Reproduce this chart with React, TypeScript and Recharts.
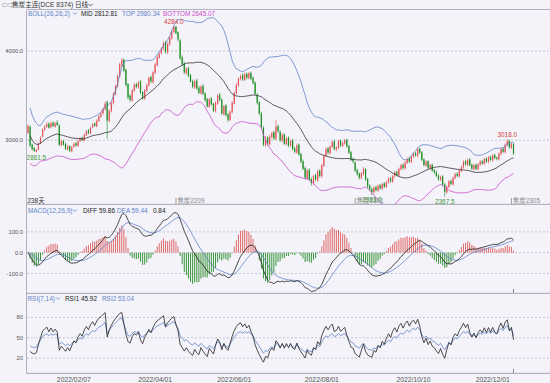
import { ComposedChart, Bar, Line, XAxis, YAxis, CartesianGrid, ReferenceDot, ReferenceLine } from 'recharts'

// daily OHLC of 焦炭主连 (one value per trading day)
const opens = [3080,3150,2950,2910,2870,2895,2965,3040,3115,3150,
3185,3145,3195,3150,3200,3165,2945,2990,2960,2895,
2935,2875,2925,2965,2935,2990,3030,2995,3055,3110,
3075,3145,3190,3155,3215,3265,3300,3345,3430,3215,
3325,3415,3515,3600,3715,3840,3905,3790,3630,3500,
3445,3555,3630,3590,3660,3540,3465,3555,3615,3710,
3650,3755,3840,3925,3975,4025,4100,3985,4075,4140,
4215,4275,4210,4120,3930,3860,3750,3810,3730,3660,
3590,3670,3590,3525,3610,3525,3460,3375,3470,3410,
3325,3410,3510,3455,3290,3390,3290,3225,3315,3410,
3525,3615,3685,3730,3675,3745,3695,3755,3700,3645,
3510,3425,3300,3140,2945,3030,2955,3035,3090,3015,
3160,3095,2995,3065,2955,3030,2935,2995,2905,2860,
2950,2845,2765,2690,2570,2670,2565,2515,2610,2550,
2660,2595,2715,2825,2910,2855,2925,2990,2895,2915,
2995,2935,2965,3005,2935,2865,2790,2750,2665,2625,
2575,2620,2675,2565,2490,2455,2415,2475,2435,2495,
2455,2515,2475,2525,2575,2535,2595,2645,2605,2675,
2725,2685,2745,2795,2755,2815,2855,2825,2905,2865,
2785,2715,2765,2685,2725,2665,2645,2605,2555,2595,
2505,2415,2475,2545,2505,2575,2625,2595,2655,2695,
2765,2725,2785,2725,2675,2725,2675,2725,2765,2735,
2795,2755,2815,2775,2835,2805,2785,2845,2905,2865,
2945,2995,2915,2955]

const highs = [3180,3165,2965,2925,2905,2975,3045,3135,3170,3205,
3200,3210,3215,3205,3225,3180,3010,3005,2975,2950,
2945,2935,2975,2980,3005,3035,3040,3075,3115,3125,
3155,3195,3200,3235,3285,3320,3365,3435,3445,3345,
3435,3540,3625,3740,3870,3924,3915,3800,3640,3515,
3575,3640,3645,3665,3675,3550,3575,3635,3715,3725,
3775,3865,3950,3990,4045,4110,4115,4095,4165,4235,
4284,4280,4220,4135,3950,3880,3820,3825,3745,3680,
3680,3690,3610,3615,3630,3540,3475,3475,3485,3420,
3440,3520,3530,3470,3395,3405,3305,3335,3435,3545,
3640,3705,3740,3750,3760,3760,3765,3770,3715,3660,
3530,3440,3320,3160,3045,3050,3060,3095,3105,3227,
3175,3115,3080,3080,3040,3045,3010,3015,2925,2960,
2965,2860,2785,2705,2680,2685,2585,2615,2625,2670,
2675,2735,2835,2920,2925,2945,2995,3005,2935,3005,
3010,2985,3015,3015,2950,2880,2805,2765,2680,2640,
2645,2700,2690,2580,2505,2470,2485,2490,2505,2510,
2525,2530,2545,2585,2590,2615,2655,2660,2695,2735,
2740,2765,2805,2810,2835,2865,2870,2924,2915,2880,
2800,2775,2775,2735,2740,2680,2660,2620,2605,2610,
2520,2495,2555,2560,2595,2635,2640,2675,2715,2775,
2780,2795,2800,2740,2735,2740,2745,2775,2780,2805,
2810,2825,2830,2845,2850,2820,2865,2915,2920,2965,
3018,3005,2975,2970]

const lows = [3070,2925,2885,2870,2861.5,2885,2955,3030,3100,3140,
3130,3135,3150,3140,3160,2935,2930,2940,2890,2885,
2867,2865,2915,2930,2925,2980,2990,2985,3045,3065,
3065,3135,3150,3145,3205,3250,3290,3335,3015,3200,
3310,3400,3500,3590,3700,3820,3760,3600,3460,3430,
3430,3540,3580,3575,3515,3455,3450,3540,3600,3640,
3635,3740,3825,3910,3960,4010,3970,3965,4060,4125,
4200,4185,4110,3900,3830,3740,3735,3705,3700,3580,
3575,3560,3515,3510,3505,3430,3365,3360,3390,3315,
3310,3395,3435,3285,3275,3265,3205,3215,3300,3400,
3510,3600,3670,3665,3660,3680,3680,3675,3625,3505,
3400,3280,3130,2930,2925,2940,2945,3020,3000,3000,
3085,2980,2975,2945,2940,2920,2920,2885,2850,2845,
2825,2740,2665,2560,2555,2540,2489,2500,2540,2535,
2580,2580,2700,2810,2840,2840,2910,2885,2880,2900,
2925,2920,2950,2915,2845,2765,2740,2645,2600,2560,
2560,2605,2545,2465,2435,2383,2400,2425,2420,2445,
2440,2465,2460,2510,2520,2520,2580,2595,2590,2660,
2670,2670,2730,2745,2740,2800,2815,2810,2845,2765,
2705,2700,2675,2670,2645,2620,2585,2545,2540,2485,
2367.5,2400,2460,2495,2490,2560,2585,2580,2640,2680,
2715,2710,2705,2665,2660,2665,2660,2710,2725,2720,
2745,2740,2765,2760,2785,2775,2770,2830,2855,2850,
2930,2905,2900,2835]

const closes = [3160,2940,2900,2880,2890,2960,3030,3120,3150,3180,
3140,3190,3160,3190,3170,2950,2990,2950,2900,2930,
2880,2920,2960,2940,2990,3020,3000,3060,3100,3080,
3140,3180,3160,3220,3270,3300,3350,3410,3220,3330,
3420,3520,3610,3720,3850,3900,3780,3620,3480,3450,
3560,3620,3600,3650,3530,3470,3560,3620,3700,3660,
3760,3850,3930,3970,4030,4090,3990,4080,4150,4220,
4270,4200,4130,3920,3850,3760,3800,3720,3650,3600,
3660,3580,3530,3600,3520,3450,3380,3460,3400,3330,
3420,3500,3450,3300,3380,3280,3230,3320,3420,3530,
3620,3690,3720,3680,3740,3700,3750,3690,3640,3520,
3420,3300,3150,2950,3020,2960,3040,3080,3020,3150,
3100,3000,3060,2960,3020,2940,2990,2900,2870,2940,
2840,2760,2680,2580,2660,2560,2520,2600,2560,2650,
2600,2720,2820,2900,2860,2930,2980,2900,2920,2990,
2940,2970,3000,2930,2860,2780,2760,2660,2620,2580,
2630,2680,2560,2480,2450,2420,2470,2440,2490,2460,
2510,2480,2530,2570,2540,2600,2640,2610,2680,2720,
2690,2750,2790,2760,2820,2850,2830,2900,2860,2780,
2720,2760,2690,2720,2660,2640,2600,2560,2590,2500,
2420,2480,2540,2510,2580,2620,2600,2660,2700,2760,
2730,2780,2720,2680,2720,2680,2730,2760,2740,2790,
2760,2810,2780,2830,2800,2790,2850,2900,2870,2950,
2990,2920,2960,2850]

// exchange holidays on weekdays (trading calendar)
const holidays = ['2022/01/03', '2022/01/31', '2022/02/01', '2022/02/02', '2022/02/03', '2022/02/04',
  '2022/04/04', '2022/04/05', '2022/05/02', '2022/05/03', '2022/05/04', '2022/06/03', '2022/09/12',
  '2022/10/03', '2022/10/04', '2022/10/05', '2022/10/06', '2022/10/07', '2023/01/02']
const dateTicks = ['2022/02/07', '2022/04/01', '2022/06/01', '2022/08/01', '2022/10/10', '2022/12/01']
const priceTicks = [3000, 4000]
const macdTicks = [-100, 0, 100]
const rsiTicks = [20, 50, 80]

// labelled extremes: [bar, price, text]
const highMarks: [number, number, string][] = [[70, 4284, '4284.0'], [230, 3018, '3018.0']]
const lowMarks: [number, number, string][] = [[4, 2861.5, '2861.5'], [165, 2383, '2383.0'], [200, 2367.5, '2367.5']]
// contract switch markers
const rolls: [number, string][] = [[71, '焦炭2209'], [157, '焦炭2301'], [232, '焦炭2305']]

const SLOTS = 251
const UP = '#e25358'
const DOWN = '#1a8c1e'
const BLUE = '#6184c6'
const PINK = '#cc4fcc'
const INK = '#222'
const FONT = "'Liberation Sans', 'Noto Sans CJK SC', sans-serif"

function makeDates() {
  const out: string[] = []
  const d = new Date(Date.UTC(2021, 11, 29))
  while (out.length < SLOTS) {
    const day = d.getUTCDay()
    const s = d.getUTCFullYear() + '/' + String(d.getUTCMonth() + 1).padStart(2, '0') + '/' + String(d.getUTCDate()).padStart(2, '0')
    if (day !== 0 && day !== 6 && !holidays.includes(s)) out.push(s)
    d.setUTCDate(d.getUTCDate() + 1)
  }
  return out
}
const dates = makeDates()
const n = closes.length

// BOLL(26,2)
const boll = closes.map((_, i) => {
  if (i === 0) return null
  const win = closes.slice(Math.max(0, i - 25), i + 1)
  const m = win.reduce((a, b) => a + b, 0) / win.length
  const sd = Math.sqrt(win.reduce((a, b) => a + (b - m) ** 2, 0) / (win.length - 1))
  return { mid: m, top: m + 2 * sd, bot: m - 2 * sd }
})

// MACD(12,26,9)
let e12 = closes[0], e26 = closes[0], dea = 0
const macd = closes.map((c, i) => {
  if (i > 0) {
    e12 = (2 * c + 11 * e12) / 13
    e26 = (2 * c + 25 * e26) / 27
  }
  const diff = e12 - e26
  dea = i === 0 ? diff : (2 * diff + 8 * dea) / 10
  return { diff, dea, hist: 2 * (diff - dea) }
})

// RSI(7,14)
const moves = closes.slice(1).map((c, i) => c - closes[i])
const seedAbs = moves.slice(0, 14).reduce((a, b) => a + Math.abs(b), 0) / 14
function rsi(p: number) {
  let up = seedAbs / 2, all = seedAbs
  return closes.map((c, i) => {
    if (i === 0) return null
    const m = c - closes[i - 1]
    up = (Math.max(m, 0) + (p - 1) * up) / p
    all = (Math.abs(m) + (p - 1) * all) / p
    return all === 0 ? 50 : (up / all) * 100
  })
}
const rsi1 = rsi(7)
const rsi2 = rsi(14)

const rows = dates.map((date, i) => {
  if (i >= n) return { date }
  const b = boll[i]
  return {
    date,
    range: [lows[i], highs[i]],
    o: opens[i], h: highs[i], l: lows[i], c: closes[i],
    mid: b?.mid, top: b?.top, bot: b?.bot,
    diff: macd[i].diff, dea: macd[i].dea, hist: macd[i].hist,
    rsi1: rsi1[i], rsi2: rsi2[i],
  }
})
const lastDate = dates[n - 1]

function Candle(props: any) {
  const { x, y, width, height, payload } = props
  if (!payload || payload.o == null) return <g />
  const top = Math.min(y, y + height)
  const h = Math.abs(height)
  const span = payload.h - payload.l
  const k = span > 0 ? h / span : 0
  const cx = x + width / 2
  const b1 = top + (payload.h - Math.max(payload.o, payload.c)) * k
  const b2 = top + (payload.h - Math.min(payload.o, payload.c)) * k
  const color = payload.c >= payload.o ? UP : DOWN
  return (
    <g>
      <line x1={cx} x2={cx} y1={top} y2={top + h} stroke={color} strokeWidth={0.6} />
      <rect x={cx - 0.6} y={b1} width={1.2} height={Math.max(0.8, b2 - b1)} fill={color} />
    </g>
  )
}

function HistBar(props: any) {
  const { x, y, width, height, payload } = props
  if (!payload || payload.hist == null) return <g />
  const t = Math.min(y, y + height)
  return <rect x={x + width / 2 - 0.5} y={t} width={1} height={Math.max(0.5, Math.abs(height))} fill={payload.hist >= 0 ? '#e06b6b' : '#3c963c'} />
}

function Chev({ x, y, color }: { x: number; y: number; color: string }) {
  return <polyline points={`${x},${y - 3.6} ${x + 2},${y - 1.6} ${x + 4},${y - 3.6}`} fill="none" stroke={color} strokeWidth={0.8} />
}

const axisTick = { fontSize: 5.8, fill: '#555', fontFamily: FONT }
const lineProps = { dot: false, isAnimationActive: false, strokeWidth: 0.8, type: 'linear' as const, activeDot: false }

export default function App() {
  return (
    <div style={{ position: 'absolute', left: 0, top: 0, width: 550, height: 383, background: '#f3f3f9', overflow: 'hidden', fontFamily: FONT }}>
      <div style={{ position: 'absolute', left: 0, top: 9 }}>
        <ComposedChart width={550} height={195} data={rows} margin={{ top: 0, right: 0, bottom: 0, left: 0 }}>
          <CartesianGrid vertical={false} stroke="#c4c4d2" strokeDasharray="2 2" />
          <XAxis dataKey="date" hide scale="band" />
          <YAxis width={27} domain={[2285, 4471]} allowDataOverflow ticks={priceTicks} interval={0}
            tickFormatter={(v: number) => v.toFixed(1)} axisLine={false} tickLine={false} tickSize={2} tickMargin={2} tick={axisTick} />
          <Bar dataKey="range" barSize={2} shape={Candle} isAnimationActive={false} />
          <Line dataKey="top" stroke={BLUE} {...lineProps} />
          <Line dataKey="mid" stroke="#333" {...lineProps} />
          <Line dataKey="bot" stroke={PINK} {...lineProps} />
          {highMarks.map(([i, p, t]) => (
            <ReferenceDot key={t} x={dates[i]} y={p} r={0} ifOverflow="visible"
              shape={(s: any) => <text x={s.cx} y={s.cy - 1.5} textAnchor="middle" fontSize={6.4} fill="#d4403f" fontFamily={FONT}>{t}</text>} />
          ))}
          {rolls.map(([i, t]) => (
            <ReferenceDot key={t} x={dates[i]} y={2285} r={0} ifOverflow="visible"
              shape={(s: any) => (
                <g>
                  <line x1={s.cx} x2={s.cx} y1={s.cy - 6} y2={s.cy} stroke="#888" strokeWidth={0.8} />
                  <text x={s.cx + 1.5} y={s.cy - 1.3} fontSize={6.4} fill="#8a8a8a" fontFamily={FONT}>{t}</text>
                </g>
              )} />
          ))}
          {lowMarks.map(([i, p, t]) => (
            <ReferenceDot key={t} x={dates[i]} y={p} r={0} ifOverflow="visible"
              shape={(s: any) => <text x={s.cx} y={s.cy + 7} textAnchor="middle" fontSize={6.4} fill="#3d963d" fontFamily={FONT}>{t}</text>} />
          ))}
        </ComposedChart>
      </div>

      <div style={{ position: 'absolute', left: 0, top: 204 }}>
        <ComposedChart width={550} height={89} data={rows} margin={{ top: 0, right: 0, bottom: 0, left: 0 }}>
          <CartesianGrid vertical={false} stroke="#c4c4d2" strokeDasharray="2 2" />
          <XAxis dataKey="date" hide scale="band" />
          <YAxis width={27} domain={[-194, 234]} allowDataOverflow ticks={macdTicks} interval={0}
            tickFormatter={(v: number) => v.toFixed(1)} axisLine={false} tickLine={false} tickSize={2} tickMargin={2} tick={axisTick} />
          <Bar dataKey="hist" barSize={2} shape={HistBar} isAnimationActive={false} />
          <Line dataKey="dea" stroke={BLUE} {...lineProps} />
          <Line dataKey="diff" stroke={INK} {...lineProps} />
          <ReferenceLine segment={[{ x: lastDate, y: -194 }, { x: lastDate, y: -175 }]} stroke="#888" ifOverflow="visible" />
        </ComposedChart>
      </div>

      <div style={{ position: 'absolute', left: 0, top: 293 }}>
        <ComposedChart width={550} height={90} data={rows} margin={{ top: 0, right: 0, bottom: 0, left: 0 }}>
          <CartesianGrid vertical={false} stroke="#c4c4d2" strokeDasharray="2 2" />
          <XAxis dataKey="date" scale="band" height={10} ticks={dateTicks} interval={0} axisLine={false} tickLine={false}
            tickSize={0} tickMargin={4} tick={{ fontSize: 6.8, fill: '#555', fontFamily: FONT }} />
          <YAxis width={27} domain={[-2, 116]} allowDataOverflow ticks={rsiTicks} interval={0}
            axisLine={false} tickLine={false} tickSize={2} tickMargin={2} tick={axisTick} />
          <Line dataKey="rsi2" stroke={BLUE} {...lineProps} />
          <Line dataKey="rsi1" stroke={INK} {...lineProps} />
          <ReferenceLine segment={[{ x: lastDate, y: -2 }, { x: lastDate, y: 4 }]} stroke="#888" ifOverflow="visible" />
        </ComposedChart>
      </div>

      <svg width={550} height={383} style={{ position: 'absolute', left: 0, top: 0, pointerEvents: 'none' }} fontFamily={FONT}>
        <g stroke="#b2b2be" strokeWidth={1}>
          <line x1={27} x2={550} y1={9.5} y2={9.5} />
          <line x1={27} x2={550} y1={204.5} y2={204.5} />
          <line x1={27} x2={550} y1={293.5} y2={293.5} />
          <line x1={27} x2={550} y1={373.5} y2={373.5} />
          <line x1={26.5} x2={26.5} y1={9.5} y2={373.5} />
        </g>

        <text x={1.5} y={7} fontSize={6} fill="#666">⇦⇨</text>
        <text x={12} y={7} fontSize={6.6} fill="#333">焦炭主连(DCE 8374)</text>
        <text x={75} y={7} fontSize={6.6} fill="#333">日线</text>
        <Chev x={88.5} y={7.5} color="#333" />

        <text y={15.6} fontSize={6.4}>
          <tspan x={28} fill={BLUE}>BOLL(26,26,2)</tspan>
          <tspan x={81} fill={INK}>MID 2812.81</tspan>
          <tspan x={122} fill={BLUE}>TOP 2980.34</tspan>
          <tspan x={163} fill={PINK}>BOTTOM 2645.07</tspan>
        </text>
        <Chev x={73} y={16} color={BLUE} />

        <text x={27.5} y={203} fontSize={6.4} fill="#333">238天</text>

        <text y={212.6} fontSize={6.4}>
          <tspan x={28} fill={BLUE}>MACD(12,26,9)</tspan>
          <tspan x={83} fill={INK}>DIFF 59.86</tspan>
          <tspan x={117} fill={BLUE}>DEA 59.44</tspan>
          <tspan x={153} fill={INK}>0.84</tspan>
        </text>
        <Chev x={73} y={213} color={BLUE} />

        <text y={300.6} fontSize={6.4}>
          <tspan x={27.5} fill={BLUE}>RSI(7,14)</tspan>
          <tspan x={65} fill={INK}>RSI1 45.92</tspan>
          <tspan x={102} fill={BLUE}>RSI2 53.04</tspan>
        </text>
        <Chev x={56} y={301} color={BLUE} />
      </svg>
    </div>
  )
}
